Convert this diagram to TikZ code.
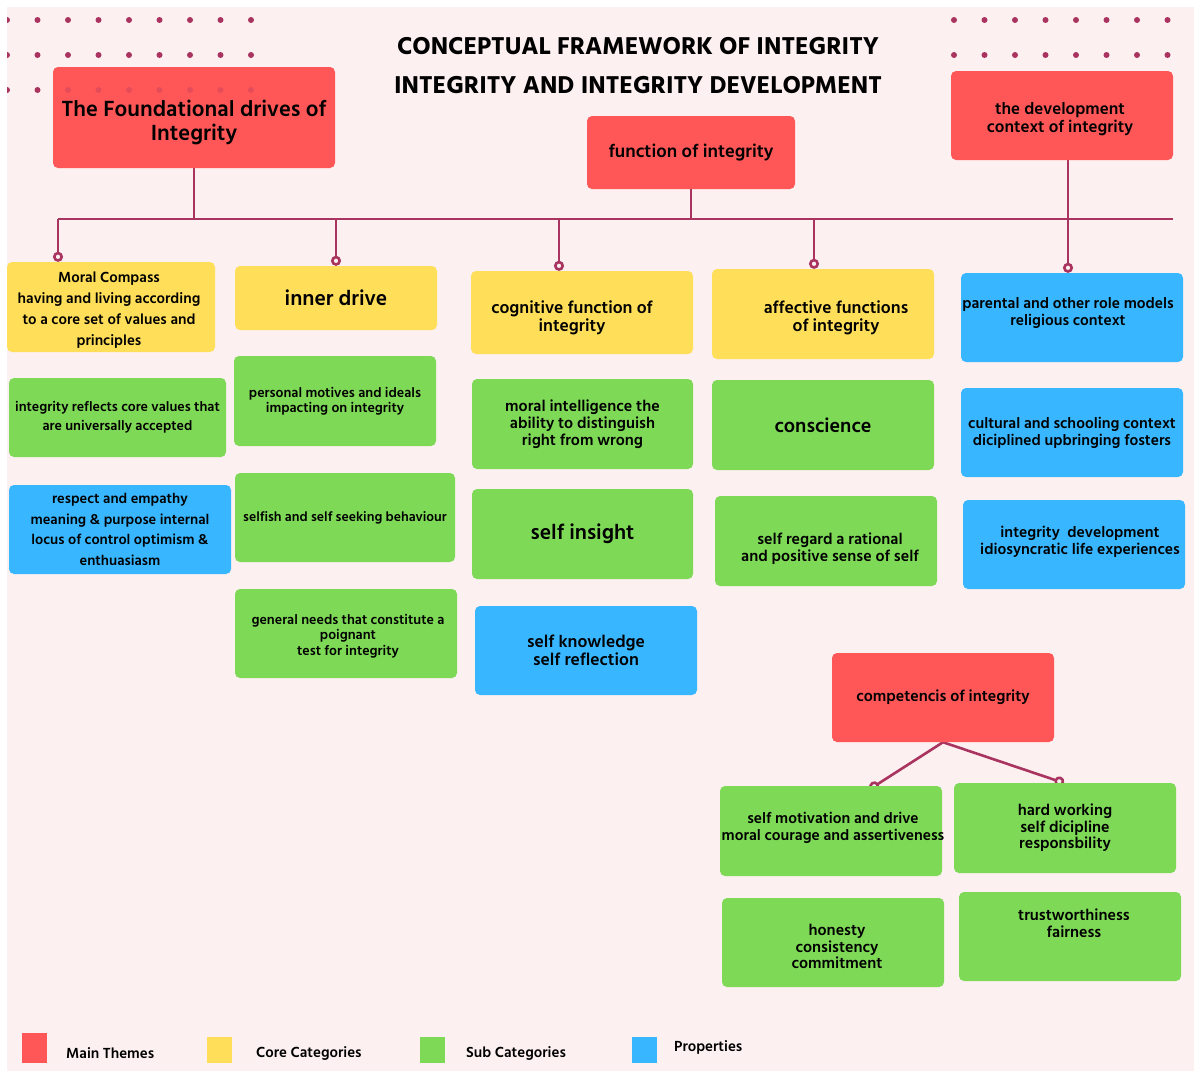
\documentclass[tikz,border=0pt]{standalone}
\usepackage{fontspec}
\setmainfont{Hind Siliguri}[UprightFont=* SemiBold,BoldFont=* Bold]
\usetikzlibrary{arrows.meta,backgrounds,positioning}

\definecolor{bgpink}{HTML}{FDF0F0}
\definecolor{themered}{HTML}{FF5757}
\definecolor{coreyellow}{HTML}{FFDE59}
\definecolor{subgreen}{HTML}{7ED957}
\definecolor{propblue}{HTML}{38B6FF}
\definecolor{linkred}{HTML}{A8345F}

\tikzset{
  box/.style 2 args={rounded corners=5pt,inner sep=0pt,align=center,
    minimum width=#1pt,minimum height=#2pt},
  theme/.style={fill=themered},
  core/.style={fill=coreyellow},
  sub/.style={fill=subgreen},
  prop/.style={fill=propblue},
  fs/.style 2 args={font=\fontsize{#1}{#2}\selectfont},
  txt/.style 2 args={font=\fontsize{#1}{#2}\selectfont,align=center,inner sep=0pt},
  link/.style={line width=2.6pt,linkred},
  drop/.style={link,-{Circle[open,length=10pt]}},
  keybox/.style={inner sep=0pt,minimum width=25pt},
  keytext/.style={fs={15}{17},anchor=west,inner sep=0pt}
}

\begin{document}
\begin{tikzpicture}[x=1pt,y=-1pt]
  \useasboundingbox (0,0) rectangle (1194,1071);

  % background and dot grids
  \begin{scope}[on background layer]
    \fill[white] (0,0) rectangle (1194,1071);
    \fill[bgpink] (7,7) rectangle (1194,1071);
    \begin{scope}
      \clip (7,7) rectangle (1194,1071);
      \foreach \y in {20,55,90}
        \foreach \x in {7,37.5,68,98.5,129,159.5,190,220.5,251}
          \fill[linkred] (\x,\y) circle (3);
      \foreach \y in {20,55}
        \foreach \x in {954,984.5,1015,1045.5,1076,1106.5,1137,1167.5}
          \fill[linkred] (\x,\y) circle (3);
    \end{scope}
  \end{scope}

  % title
  \node[align=center,font=\fontsize{25}{39}\selectfont\bfseries] (title) at (638,66)
    {CONCEPTUAL FRAMEWORK OF INTEGRITY\\INTEGRITY AND INTEGRITY DEVELOPMENT};

  % main themes
  \node[box={282}{101},theme] (found) at (194,117.5) {};
  \node[txt={22.5}{24}] (found-t) at (194,122) {The Foundational drives of\\Integrity};
  \node[box={208}{73},theme,fs={18.5}{20}] (func) at (691,152.5)
    {function of integrity};
  \node[box={222}{89},theme] (devel) at (1062,115.5) {};
  \node[txt={17}{18}] (devel-t) at (1060,119.5) {the development\\context of integrity};

  % first column
  \node[box={208}{90},core] (moral) at (111,307) {};
  \node[txt={15}{21}] (moral-t) at (109,310)
    {Moral Compass\\having and living according\\to a core set of values and\\principles};
  \node[box={217}{79},sub,fs={14}{19}] (reflects) at (117.5,417.5)
    {integrity reflects core values that\\are universally accepted};
  \node[box={222}{89},prop,fs={14.5}{20.5}] (respect) at (120,529.5)
    {respect and empathy\\meaning \& purpose internal\\locus of control optimism \&\\enthuasiasm};

  % second column
  \node[box={202}{64},core,fs={21.5}{24}] (inner) at (336,298) {inner drive};
  \node[box={202}{90},sub,fs={14}{15}] (motives) at (335,401)
    {personal motives and ideals\\impacting on integrity};
  \node[box={220}{89},sub,fs={13.7}{15}] (selfish) at (345,517.5)
    {selfish and self seeking behaviour};
  \node[box={222}{89},sub] (needs) at (346,633.5) {};
  \node[txt={14}{15.5}] (needs-t) at (348,636)
    {general needs that constitute a\\poignant\\test for integrity};

  % third column
  \node[box={222}{83},core] (cogn) at (582,312.5) {};
  \node[txt={17.5}{18}] (cogn-t) at (572,318) {cognitive function of\\integrity};
  \node[box={221}{90},sub,fs={16}{17}] (intell) at (582.5,424)
    {moral intelligence the\\ability to distinguish\\right from wrong};
  \node[box={221}{90},sub,fs={21.5}{24}] (insight) at (582.5,534) {self insight};
  \node[box={222}{89},prop,fs={17.5}{18}] (knowledge) at (586,650.5)
    {self knowledge\\self reflection};

  % fourth column
  \node[box={222}{90},core] (affect) at (823,314) {};
  \node[txt={17.5}{18}] (affect-t) at (836,318) {affective functions\\of integrity};
  \node[box={222}{90},sub,fs={20}{22}] (conscience) at (823,425) {conscience};
  \node[box={222}{90},sub] (regard) at (826,541) {};
  \node[txt={16}{17}] (regard-t) at (830,548.5)
    {self regard a rational\\and positive sense of self};

  % fifth column
  \node[box={222}{89},prop] (parental) at (1072,317.5) {};
  \node[txt={15.5}{17}] (parental-t) at (1068,313.5)
    {parental and other role models\\religious context};
  \node[box={222}{89},prop,fs={15.5}{17}] (cultural) at (1072,432.5)
    {cultural and schooling context\\diciplined upbringing fosters};
  \node[box={222}{89},prop] (intdev) at (1074,544.5) {};
  \node[txt={15.6}{16.5}] (intdev-t) at (1080,542)
    {integrity\ \ development\\idiosyncratic life experiences};

  % competencies
  \node[box={222}{89},theme,fs={16}{17}] (comp) at (943,697.5)
    {competencis of integrity};
  \node[box={222}{90},sub] (motiv) at (831,831) {};
  \node[txt={15.5}{17}] (motiv-t) at (833,827.5)
    {self motivation and drive\\moral courage and assertiveness};
  \node[box={222}{90},sub,fs={16}{16.5}] (hard) at (1065,828)
    {hard working\\self dicipline\\responsbility};
  \node[box={222}{89},sub] (honesty) at (833,942.5) {};
  \node[txt={16}{16.5}] (honesty-t) at (837,946.5)
    {honesty\\consistency\\commitment};
  \node[box={222}{89},sub] (trust) at (1070,936.5) {};
  \node[txt={16}{17}] (trust-t) at (1074,923.5) {trustworthiness\\fairness};

  % connectors
  \coordinate (bar-l) at (58,219);
  \coordinate (bar-r) at (1173,219);
  \coordinate (cogn-drop) at (559,219);
  \coordinate (affect-drop) at (814,219);
  \coordinate (dev-drop) at (1068,219);
  \coordinate (motiv-end) at (870,789);
  \coordinate (hard-end) at (1064,783);
  \begin{scope}[on background layer]
    \draw[link] (bar-l) -- (bar-r);
    \draw[link] (found.south) -- (found.south |- bar-l);
    \draw[link] (func.south) -- (func.south |- bar-l);
    \draw[drop] (dev-drop |- devel.south) -- (dev-drop |- parental.north);
    \draw[drop] (bar-l) -- (bar-l |- moral.north);
    \draw[drop] (inner.north |- bar-l) -- (inner.north);
    \draw[drop] (cogn-drop) -- (cogn-drop |- cogn.north);
    \draw[drop] (affect-drop) -- (affect-drop |- affect.north);
    \draw[drop] (comp.south) -- (motiv-end);
    \draw[drop] (comp.south) -- (hard-end);
  \end{scope}

  % dots showing through the first theme box
  \foreach \x in {68,98.5,129,159.5,190,220.5,251}
    \fill[linkred,opacity=0.3] (\x,90) circle (3);

  % legend
  \node[keybox,minimum height=30pt,fill=themered] (key-main) at (34.5,1048) {};
  \node[keytext] (key-main-t) at (66,1053) {Main Themes};
  \node[keybox,minimum height=26pt,fill=coreyellow] (key-core) at (219.5,1050) {};
  \node[keytext] (key-core-t) at (256,1053) {Core Categories};
  \node[keybox,minimum height=26pt,fill=subgreen] (key-sub) at (432.5,1050) {};
  \node[keytext] (key-sub-t) at (466,1053) {Sub Categories};
  \node[keybox,minimum height=26pt,fill=propblue] (key-prop) at (644.5,1050) {};
  \node[keytext] (key-prop-t) at (674,1047) {Properties};
\end{tikzpicture}
\end{document}
